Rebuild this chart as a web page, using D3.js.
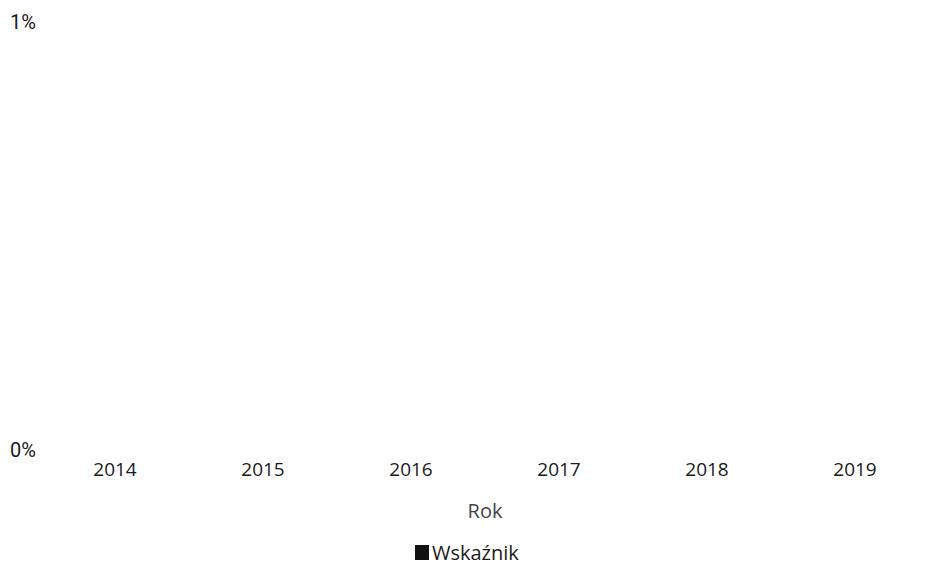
<!DOCTYPE html>
<html><head><meta charset="utf-8">
<script src="https://cdn.jsdelivr.net/npm/d3@7"></script>
<style>body{margin:0;background:#fff}svg{display:block}text{font-family:"Open Sans","Noto Sans",sans-serif}</style>
</head><body><svg id="c" width="931" height="566"></svg>
<script>
const years = ["2014","2015","2016","2017","2018","2019"];
const values = [0,0,0,0,0,0];
const yTicks = [0,0.01];
const seriesName = "Wskaźnik";
const xTitle = "Rok";

const svg = d3.select("#c");
const x = d3.scaleBand().domain(years).range([41,929]).paddingInner(0.2).paddingOuter(0.1);
const y = d3.scaleLinear().domain([0,0.01]).range([450,22]);

svg.append("g").selectAll("rect").data(years).join("rect")
  .attr("x", d=>x(d)).attr("width", x.bandwidth())
  .attr("y", (d,i)=>y(values[i])).attr("height",(d,i)=>y(0)-y(values[i]))
  .attr("fill","#111");

svg.append("g").selectAll("text").data(yTicks).join("text")
  .attr("x",10).attr("y",d=>y(d)).attr("dy","0.35em")
  .attr("font-size",20).attr("fill","#1a1a1a").style("font-family","Roboto,sans-serif")
  .text(d=>d3.format(".0%")(d));

const xa = svg.append("g").attr("transform","translate(0,469)")
  .call(d3.axisBottom(x).tickSize(0).tickPadding(0));
xa.select(".domain").remove();
xa.selectAll("text").attr("font-size",19).attr("fill","#1a1a1a")
  .style("font-family",'"Open Sans","Noto Sans",sans-serif').attr("dy","0.35em");

svg.append("text").attr("x",485).attr("y",511).attr("dy","0.35em")
  .attr("text-anchor","middle").attr("font-size",20).attr("fill","#444").text(xTitle);

const lg = svg.append("g").attr("transform","translate(415,545)");
lg.append("rect").attr("width",14).attr("height",15).attr("fill","#111");
lg.append("text").attr("x",17).attr("y",7.5).attr("dy","0.35em").attr("font-size",20).attr("fill","#1a1a1a").text(seriesName);
</script></body></html>
